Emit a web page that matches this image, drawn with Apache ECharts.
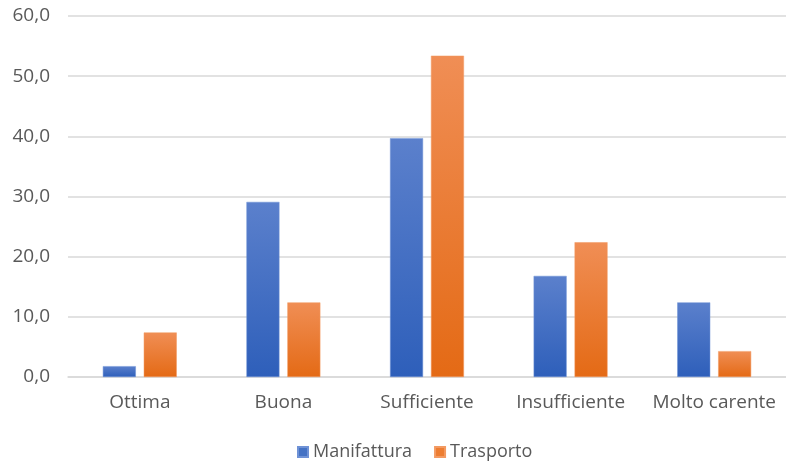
<!DOCTYPE html>
<html><head><meta charset="utf-8">
<script src="https://cdn.jsdelivr.net/npm/echarts@6/dist/echarts.min.js"></script>
<style>html,body{margin:0;padding:0;background:#fff}#c{width:786px;height:461px}</style>
</head><body><div id="c"></div>
<script>
const categories = ['Ottima','Buona','Sufficiente','Insufficiente','Molto carente'];
const manifattura = [1.8, 29.1, 39.7, 16.8, 12.4];
const trasporto = [7.4, 12.4, 53.4, 22.4, 4.3];
const seriesNames = ['Manifattura','Trasporto'];

function grad(top, bottom){
  return new echarts.graphic.LinearGradient(0,0,0,1,[{offset:0,color:top},{offset:1,color:bottom}]);
}
const chart = echarts.init(document.getElementById('c'));
chart.setOption({
  animation:false,
  textStyle:{fontFamily:'Open Sans, Noto Sans, sans-serif'},
  grid:{left:68,right:0,top:16,bottom:84,containLabel:false},
  legend:{top:438,left:292,itemWidth:10,itemHeight:10,itemGap:22,
    textStyle:{color:'#595959',fontSize:18},
    data:[{name:seriesNames[0],icon:'rect',itemStyle:{color:'#4472c4'}},{name:seriesNames[1],icon:'rect',itemStyle:{color:'#ed7d31'}}]},
  xAxis:{type:'category',data:categories,
    axisLine:{lineStyle:{color:'#d9d9d9',width:1.5}},axisTick:{show:false},
    axisLabel:{color:'#595959',fontSize:19,margin:16,interval:0,hideOverlap:false}},
  yAxis:{type:'value',min:0,max:60,interval:10,
    axisLine:{show:false},axisTick:{show:false},
    splitLine:{lineStyle:{color:'#d9d9d9',width:1.5}},
    axisLabel:{color:'#595959',fontSize:19,margin:18,formatter:v=>v.toFixed(1).replace('.',',')}},
  series:[
    {name:seriesNames[0],type:'bar',data:manifattura,barWidth:33,barGap:'24%',
      itemStyle:{color:grad('#5b80cc','#2e5fba'),borderColor:'#6f92d6',borderWidth:0.5}},
    {name:seriesNames[1],type:'bar',data:trasporto,barWidth:33,
      itemStyle:{color:grad('#f08e55','#e46a15'),borderColor:'#f39a62',borderWidth:0.5}}
  ]
});
</script></body></html>
